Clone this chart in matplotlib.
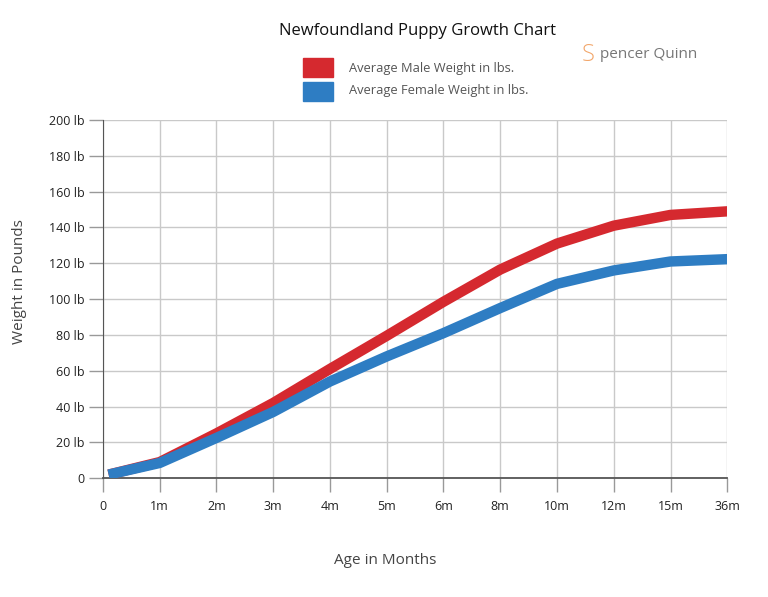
import matplotlib.pyplot as plt
import matplotlib.patches as mpatches

plt.rcParams['font.family'] = ['Open Sans', 'DejaVu Sans']

# x positions are category slots; the first sample sits just after "0"
months = ['0', '1m', '2m', '3m', '4m', '5m', '6m', '8m', '10m', '12m', '15m', '36m']
sample_pos = [0.1, 1, 2, 3, 4, 5, 6, 7, 8, 9, 10, 11]
male = [2, 9, 25, 42, 61, 79.5, 98.5, 116.5, 131, 141, 147, 149]
female = [2, 8.5, 22.5, 37, 54, 68, 81, 95, 108.5, 116, 121, 122.3]
y_ticks = list(range(0, 201, 20))
y_labels = ['0'] + [f'{v} lb' for v in y_ticks[1:]]

red = '#d5292f'
blue = '#2e7dc3'

fig = plt.figure(figsize=(7.68, 5.97), dpi=100)
ax = fig.add_axes([0.134, 0.199, 0.813, 0.600])

ax.plot(sample_pos, male, color=red, lw=7.5, solid_capstyle='butt',
        solid_joinstyle='round', zorder=3)
ax.plot(sample_pos, female, color=blue, lw=7.5, solid_capstyle='butt',
        solid_joinstyle='round', zorder=4)

ax.set_xlim(0, 11)
ax.set_ylim(0, 200)
ax.set_xticks(range(len(months)))
ax.set_xticklabels(months)
ax.set_yticks(y_ticks)
ax.set_yticklabels(y_labels)

ax.grid(True, color='#c9c9c9', lw=1)
ax.set_axisbelow(True)
for s in ['top', 'right']:
    ax.spines[s].set_visible(False)
ax.spines['left'].set_color('#555555')
ax.spines['bottom'].set_color('#555555')
ax.spines['bottom'].set_linewidth(1.3)
ax.tick_params(axis='both', length=10, width=1, color='#999999',
               labelsize=9, labelcolor='#222222')
ax.tick_params(axis='y', pad=3)
ax.tick_params(axis='x', pad=6)

# axis titles
fig.text(0.502, 1 - 560 / 597, 'Age in Months', ha='center', va='center',
         fontsize=11, color='#444444')
fig.text(20 / 768, 1 - 282 / 597, 'Weight in Pounds', ha='center', va='center',
         rotation=90, fontsize=11, color='#444444')

fig.text(0.543, 0.948, 'Newfoundland Puppy Growth Chart', ha='center', va='center',
         fontsize=12, color='#111111')

# legend
fig.patches.append(mpatches.Rectangle((0.395, 0.871), 0.039, 0.032, color=red,
                                      transform=fig.transFigure))
fig.patches.append(mpatches.Rectangle((0.395, 0.831), 0.039, 0.031, color=blue,
                                      transform=fig.transFigure))
fig.text(0.454, 0.885, 'Average Male Weight in lbs.', ha='left', va='center',
         fontsize=9.3, color='#555555')
fig.text(0.454, 0.848, 'Average Female Weight in lbs.', ha='left', va='center',
         fontsize=9.3, color='#555555')

# logo
fig.text(0.757, 0.908, 'S', ha='left', va='center', fontsize=17,
         color='#f2a66a', fontweight='light')
fig.text(0.781, 0.909, 'pencer Quinn', ha='left', va='center', fontsize=11,
         color='#777777')

fig.savefig('out.png', dpi=100, facecolor='white')
